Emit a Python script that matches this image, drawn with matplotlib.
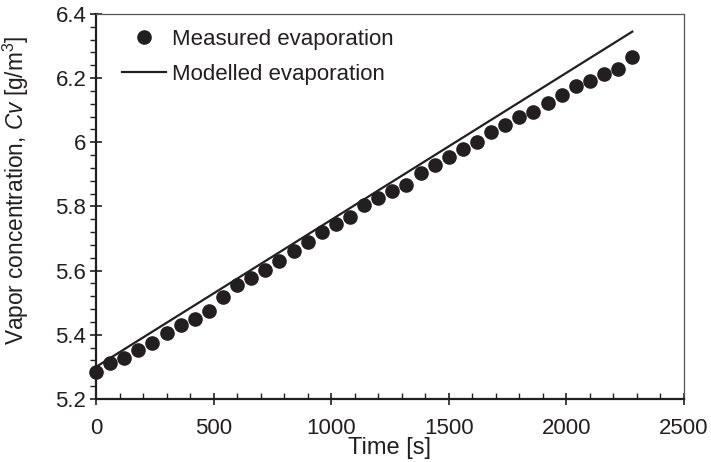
import numpy as np
import matplotlib
matplotlib.use('Agg')
import matplotlib.pyplot as plt
from matplotlib.ticker import MultipleLocator

# フォント設定
plt.rcParams['font.family'] = 'Liberation Sans'
plt.rcParams['mathtext.fontset'] = 'custom'
plt.rcParams['mathtext.rm'] = 'Liberation Sans'
plt.rcParams['mathtext.it'] = 'Liberation Sans:italic'
plt.rcParams['font.size'] = 16

ink = '#231f20'

# 測定値 (60 s ごと)
time_measured = np.arange(0, 2281, 60)
cv_measured = [5.283, 5.311, 5.328, 5.353, 5.376, 5.405, 5.430, 5.448, 5.475, 5.517,
               5.556, 5.576, 5.602, 5.631, 5.662, 5.690, 5.720, 5.745, 5.768, 5.805,
               5.828, 5.849, 5.866, 5.904, 5.928, 5.953, 5.978, 6.000, 6.032, 6.054,
               6.080, 6.095, 6.122, 6.147, 6.177, 6.192, 6.213, 6.229, 6.267]

# モデル値
time_model = [0, 2280]
cv_model = [5.300, 6.345]

fig = plt.figure(figsize=(7.11, 4.62), dpi=100)
ax = fig.add_axes([96 / 711, 63 / 462, 588 / 711, 385 / 462])

ax.plot(time_measured, cv_measured, 'o', color=ink, markersize=9.5,
        label='Measured evaporation', clip_on=False, zorder=3)
ax.plot(time_model, cv_model, '-', color=ink, lw=1.6,
        label='Modelled evaporation', zorder=2)

ax.set_xlim(0, 2500)
ax.set_ylim(5.2, 6.4)
ax.xaxis.set_major_locator(MultipleLocator(500))
ax.xaxis.set_minor_locator(MultipleLocator(100))
ax.yaxis.set_minor_locator(MultipleLocator(0.04))
ax.set_yticks([5.2, 5.4, 5.6, 5.8, 6.0, 6.2, 6.4])
ax.set_yticklabels(['5.2', '5.4', '5.6', '5.8', '6', '6.2', '6.4'])

ax.tick_params(axis='x', which='major', direction='inout', length=8, width=1.2,
               color=ink, labelcolor=ink, pad=10)
ax.tick_params(axis='x', which='minor', direction='in', length=4, width=1.0, color=ink)
ax.tick_params(axis='y', which='major', direction='inout', length=8, width=1.2,
               color=ink, labelcolor=ink, pad=3)
ax.tick_params(axis='y', which='minor', direction='out', length=4, width=1.0, color=ink)

for side in ['left', 'bottom']:
    ax.spines[side].set_linewidth(1.6)
    ax.spines[side].set_color(ink)
for side in ['top', 'right']:
    ax.spines[side].set_linewidth(0.9)
    ax.spines[side].set_color('#555555')

ax.set_xlabel('Time [s]', color=ink, fontsize=17)
ax.xaxis.set_label_coords((389 - 96) / 588, -(437 - 399) / 385)
ax.set_ylabel(r'Vapor concentration, $Cv$ [g/m$^3$]', color=ink, fontsize=16.3)
ax.yaxis.set_label_coords(-(96 - 31) / 588, (399 - 190) / 385)

ax.legend(loc='upper left', bbox_to_anchor=(26 / 588, 1 - 15 / 385), frameon=False,
          borderaxespad=0, borderpad=0, handlelength=2.0, handletextpad=0.25,
          labelspacing=0.62, labelcolor=ink)

fig.savefig('out.png', dpi=100)
